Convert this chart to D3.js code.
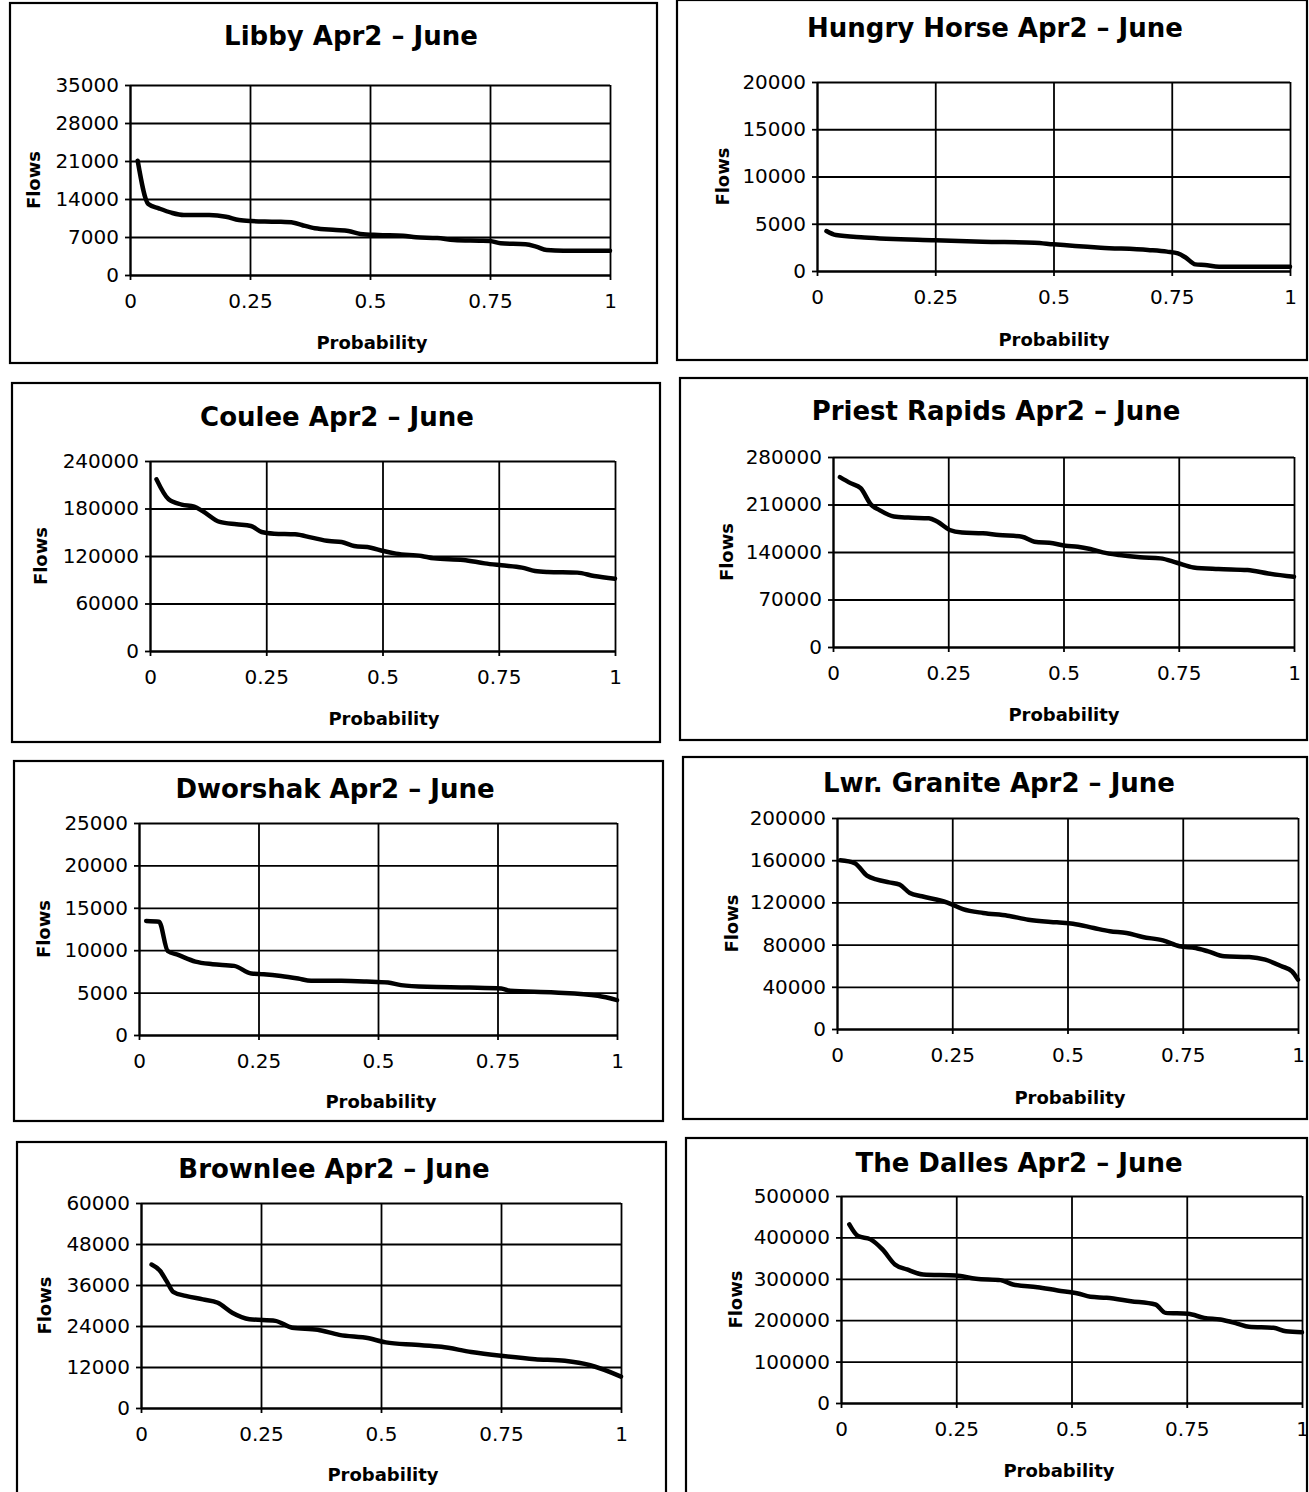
<!DOCTYPE html>
<html>
<head>
<meta charset="utf-8">
<script src="https://cdn.jsdelivr.net/npm/d3@7"></script>
<style>
  body { margin: 0; background: #fff; }
  text { font-family: "DejaVu Sans", sans-serif; fill: #000; }
</style>
</head>
<body>
<script>
const W = 1309
const H = 1492

// x ticks, shared by every panel
const probTicks = [0, 0.25, 0.5, 0.75, 1]

// Libby
const libbyProb = [0.016, 0.038, 0.06, 0.086, 0.112, 0.165, 0.2, 0.227, 0.253, 0.306, 0.341, 0.358, 0.385, 0.429, 0.455, 0.48, 0.517, 0.569, 0.596, 0.64, 0.675, 0.728, 0.75, 0.772, 0.824, 0.846, 0.868, 0.903, 1.0]
const libbyFlow = [21060, 13080, 12280, 11480, 11050, 11050, 10740, 10130, 9940, 9820, 9640, 9210, 8600, 8290, 8100, 7550, 7370, 7240, 6940, 6810, 6450, 6320, 6260, 5830, 5650, 5220, 4600, 4480, 4480]
const libbyTicks = [0, 7000, 14000, 21000, 28000, 35000]

// Hungry Horse
const hhProb = [0.02, 0.04, 0.1, 0.25, 0.35, 0.46, 0.5, 0.6, 0.7, 0.74, 0.763, 0.78, 0.8, 0.82, 0.85, 1.0]
const hhFlow = [4230, 3800, 3550, 3250, 3100, 3000, 2820, 2470, 2220, 2050, 1870, 1400, 700, 630, 460, 460]
const hhTicks = [0, 5000, 10000, 15000, 20000]

// Coulee
const couleeProb = [0.014, 0.04, 0.068, 0.095, 0.113, 0.15, 0.186, 0.217, 0.24, 0.267, 0.312, 0.348, 0.385, 0.412, 0.439, 0.475, 0.502, 0.529, 0.584, 0.611, 0.674, 0.72, 0.756, 0.8, 0.828, 0.855, 0.919, 0.955, 1.0]
const couleeFlow = [216800, 191600, 185000, 182300, 176800, 163000, 160000, 157900, 150300, 148200, 147400, 143200, 138900, 137700, 132600, 130500, 126300, 123000, 120000, 117000, 115000, 110700, 108200, 105300, 101000, 99800, 99000, 94700, 91400]
const couleeTicks = [0, 60000, 120000, 180000, 240000]

// Priest Rapids
const priestProb = [0.015, 0.038, 0.06, 0.083, 0.1, 0.132, 0.163, 0.208, 0.226, 0.253, 0.28, 0.325, 0.36, 0.41, 0.437, 0.477, 0.504, 0.531, 0.558, 0.585, 0.621, 0.666, 0.71, 0.746, 0.782, 0.836, 0.899, 0.944, 1.0]
const priestFlow = [250400, 241500, 234100, 209500, 202100, 192200, 190700, 189700, 184800, 172500, 168600, 167500, 165100, 162600, 155200, 152800, 149300, 147800, 144400, 139500, 135500, 132100, 130600, 124200, 117300, 114900, 113400, 108400, 103500]
const priestTicks = [0, 70000, 140000, 210000, 280000]

// Dworshak
const dworProb = [0.015, 0.042, 0.06, 0.082, 0.118, 0.154, 0.199, 0.235, 0.261, 0.297, 0.333, 0.36, 0.423, 0.476, 0.521, 0.548, 0.602, 0.691, 0.758, 0.776, 0.87, 0.96, 1.0]
const dworFlow = [13440, 13360, 9910, 9440, 8660, 8350, 8150, 7250, 7170, 6970, 6660, 6390, 6390, 6310, 6190, 5880, 5680, 5600, 5490, 5210, 5020, 4620, 4110]
const dworTicks = [0, 5000, 10000, 15000, 20000, 25000]

// Lower Granite
const graniteProb = [0.007, 0.038, 0.065, 0.087, 0.113, 0.136, 0.158, 0.184, 0.238, 0.273, 0.317, 0.37, 0.415, 0.477, 0.512, 0.557, 0.592, 0.628, 0.663, 0.707, 0.743, 0.778, 0.805, 0.84, 0.894, 0.929, 0.965, 0.987, 1.0]
const graniteFlow = [159900, 157300, 145300, 141500, 139000, 136800, 128900, 125800, 120100, 113700, 110000, 107400, 103600, 101100, 99800, 95700, 92600, 91000, 87200, 84000, 78400, 76800, 73600, 68900, 68200, 65700, 59400, 54700, 46800]
const graniteTicks = [0, 40000, 80000, 120000, 160000, 200000]

// Brownlee
const brownProb = [0.022, 0.04, 0.053, 0.067, 0.093, 0.129, 0.16, 0.19, 0.226, 0.28, 0.315, 0.368, 0.413, 0.475, 0.51, 0.572, 0.626, 0.688, 0.75, 0.821, 0.883, 0.936, 1.0]
const brownFlow = [42000, 40100, 37200, 34000, 32800, 31800, 30800, 27900, 26000, 25500, 23500, 22900, 21400, 20400, 19200, 18500, 17900, 16400, 15300, 14300, 13800, 12500, 9200]
const brownTicks = [0, 12000, 24000, 36000, 48000, 60000]

// The Dalles
const dallesProb = [0.018, 0.037, 0.064, 0.09, 0.117, 0.143, 0.178, 0.249, 0.293, 0.346, 0.373, 0.426, 0.47, 0.514, 0.541, 0.576, 0.629, 0.682, 0.704, 0.753, 0.788, 0.823, 0.859, 0.885, 0.938, 0.965, 1.0]
const dallesFlow = [431500, 403200, 395200, 371000, 334700, 322600, 310500, 308100, 300000, 296800, 286300, 279800, 271800, 264500, 256500, 254000, 246000, 237900, 217700, 215300, 205600, 201600, 191900, 183900, 181500, 173400, 171000]
const dallesTicks = [0, 100000, 200000, 300000, 400000, 500000]

// panel layout: box, plot area, label spots
const panels = [
  { title: 'Libby Apr2 \u2013 June', prob: libbyProb, flow: libbyFlow, ticks: libbyTicks,
    box: [10, 3, 647, 360], plot: [130, 610, 85, 275], tx: 351, ty: 36, fx: 33, px: 372, py: 342 },
  { title: 'Hungry Horse Apr2 \u2013 June', prob: hhProb, flow: hhFlow, ticks: hhTicks,
    box: [677, 0, 630, 360], plot: [817, 1290, 82, 271], tx: 995, ty: 28, fx: 722, px: 1054, py: 339 },
  { title: 'Coulee Apr2 \u2013 June', prob: couleeProb, flow: couleeFlow, ticks: couleeTicks,
    box: [12, 383, 648, 359], plot: [150, 615, 461, 651], tx: 337, ty: 417, fx: 40, px: 384, py: 718 },
  { title: 'Priest Rapids Apr2 \u2013 June', prob: priestProb, flow: priestFlow, ticks: priestTicks,
    box: [680, 378, 627, 362], plot: [833, 1294, 457, 647], tx: 996, ty: 411, fx: 726, px: 1064, py: 714 },
  { title: 'Dworshak Apr2 \u2013 June', prob: dworProb, flow: dworFlow, ticks: dworTicks,
    box: [14, 761, 649, 360], plot: [139, 617, 823, 1035], tx: 335, ty: 789, fx: 43, px: 381, py: 1101 },
  { title: 'Lwr. Granite Apr2 \u2013 June', prob: graniteProb, flow: graniteFlow, ticks: graniteTicks,
    box: [683, 757, 624, 362], plot: [837, 1298, 818, 1029], tx: 999, ty: 783, fx: 731, px: 1070, py: 1097 },
  { title: 'Brownlee Apr2 \u2013 June', prob: brownProb, flow: brownFlow, ticks: brownTicks,
    box: [17, 1142, 649, 360], plot: [141, 621, 1203, 1408], tx: 334, ty: 1169, fx: 44, px: 383, py: 1474 },
  { title: 'The Dalles Apr2 \u2013 June', prob: dallesProb, flow: dallesFlow, ticks: dallesTicks,
    box: [686, 1138, 621, 360], plot: [841, 1302, 1196, 1403], tx: 1019, ty: 1163, fx: 735, px: 1059, py: 1470 }
]

const svg = d3.select('body').append('svg')
  .attr('width', W)
  .attr('height', H)

panels.forEach(p => {
  const g = svg.append('g')
  const [x0, x1, yT, yB] = p.plot

  const x = d3.scaleLinear().domain([0, 1]).range([x0, x1])
  const y = d3.scaleLinear().domain([0, d3.max(p.ticks)]).range([yB, yT])

  // outer frame
  g.append('rect')
    .attr('x', p.box[0]).attr('y', p.box[1])
    .attr('width', p.box[2]).attr('height', p.box[3])
    .attr('fill', 'none').attr('stroke', '#000').attr('stroke-width', 2.2)

  // grid lines
  g.append('g').attr('transform', `translate(0,${yB})`)
    .call(d3.axisBottom(x).tickValues(probTicks).tickSize(-(yB - yT)).tickFormat(''))
    .call(a => a.select('.domain').remove())
    .selectAll('line').attr('stroke', '#000').attr('stroke-width', 1.8)
  g.append('g').attr('transform', `translate(${x0},0)`)
    .call(d3.axisLeft(y).tickValues(p.ticks).tickSize(-(x1 - x0)).tickFormat(''))
    .call(a => a.select('.domain').remove())
    .selectAll('line').attr('stroke', '#000').attr('stroke-width', 1.8)

  // axes with labels
  const ya = g.append('g').attr('transform', `translate(${x0},0)`)
    .call(d3.axisLeft(y).tickValues(p.ticks).tickSize(5).tickSizeOuter(0).tickPadding(6).tickFormat(d3.format('d')))
  const xa = g.append('g').attr('transform', `translate(0,${yB})`)
    .call(d3.axisBottom(x).tickValues(probTicks).tickSize(5).tickSizeOuter(0).tickPadding(14).tickFormat(d => String(d)))
  ;[ya, xa].forEach(a => {
    a.select('.domain').attr('stroke', '#000').attr('stroke-width', 2)
    a.selectAll('line').attr('stroke', '#000').attr('stroke-width', 1.8)
    a.selectAll('text').attr('font-family', '"DejaVu Sans", sans-serif').attr('font-size', 20).attr('fill', '#000')
  })

  // exceedance curve
  const pts = p.prob.map((v, i) => [v, p.flow[i]])
  g.append('path')
    .datum(pts)
    .attr('fill', 'none')
    .attr('stroke', '#000')
    .attr('stroke-width', 4.5)
    .attr('stroke-linejoin', 'round')
    .attr('stroke-linecap', 'round')
    .attr('d', d3.line().curve(d3.curveMonotoneX).x(d => x(d[0])).y(d => y(d[1])))

  // titles
  g.append('text')
    .attr('x', p.tx).attr('y', p.ty)
    .attr('text-anchor', 'middle').attr('dominant-baseline', 'central')
    .attr('font-size', 26).attr('font-weight', 'bold')
    .text(p.title)
  g.append('text')
    .attr('transform', `translate(${p.fx},${(yT + yB) / 2}) rotate(-90)`)
    .attr('text-anchor', 'middle').attr('dominant-baseline', 'central')
    .attr('font-size', 18).attr('font-weight', 'bold')
    .text('Flows')
  g.append('text')
    .attr('x', p.px).attr('y', p.py)
    .attr('text-anchor', 'middle').attr('dominant-baseline', 'central')
    .attr('font-size', 18).attr('font-weight', 'bold')
    .text('Probability')
})
</script>
</body>
</html>
